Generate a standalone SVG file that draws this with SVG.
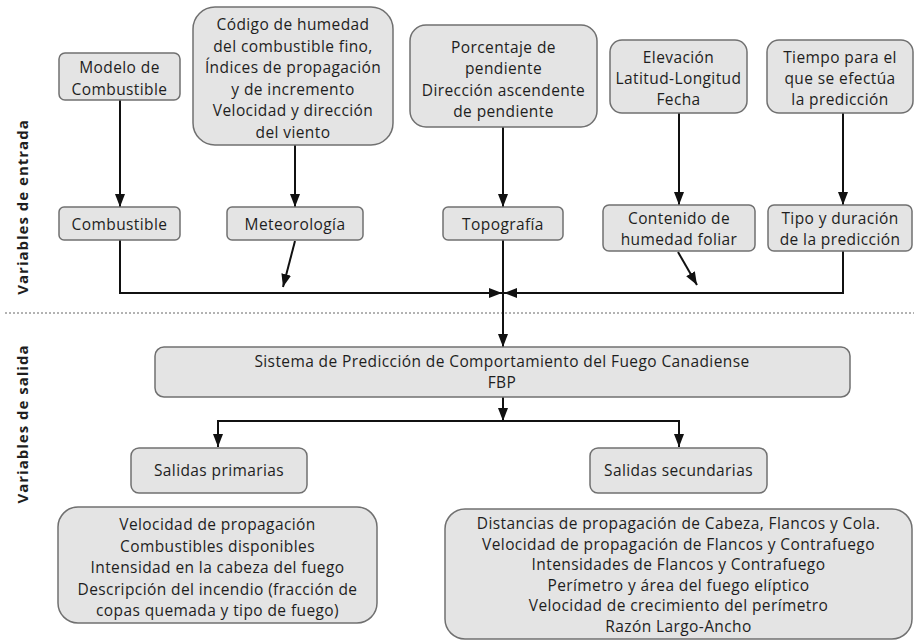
<svg xmlns="http://www.w3.org/2000/svg" width="914" height="643" viewBox="0 0 914 643">
<defs>
<style>
.box{fill:#e4e4e4;stroke:#707070;stroke-width:1.5}
.t{font-family:"Open Sans","Liberation Sans",sans-serif;font-size:15.5px;letter-spacing:0.4px;fill:#1e1e1e;text-anchor:middle}
.lbl{font-family:"Open Sans","Liberation Sans",sans-serif;font-size:15px;letter-spacing:1px;font-weight:bold;fill:#1e1e1e;text-anchor:middle}
.ln{stroke:#111;stroke-width:2;fill:none}
.dot{stroke:#666;stroke-width:1;stroke-dasharray:2 2;fill:none}
</style>
<marker id="ah" viewBox="0 0 13 10" markerWidth="13" markerHeight="10" refX="13" refY="5" orient="auto" markerUnits="userSpaceOnUse">
<path d="M0,0 L13,5 L0,10 z" fill="#111"/>
</marker>
</defs>

<rect width="914" height="643" fill="#fff"/>

<g id="labels">
<text class="lbl" transform="translate(28,207) rotate(-90)">Variables de entrada</text>
<text class="lbl" transform="translate(28,424) rotate(-90)">Variables de salida</text>
<line class="dot" x1="5" y1="313" x2="914" y2="313"/>
</g>

<g id="connectors">
<line class="ln" x1="120" y1="100" x2="120" y2="207" marker-end="url(#ah)"/>
<line class="ln" x1="295" y1="145" x2="295" y2="207" marker-end="url(#ah)"/>
<line class="ln" x1="503" y1="127" x2="503" y2="207" marker-end="url(#ah)"/>
<line class="ln" x1="679" y1="113" x2="679" y2="205" marker-end="url(#ah)"/>
<line class="ln" x1="843" y1="113" x2="843" y2="205" marker-end="url(#ah)"/>
<polyline class="ln" points="120,240 120,293 502,293" marker-end="url(#ah)"/>
<line class="ln" x1="295" y1="241" x2="283" y2="287" marker-end="url(#ah)"/>
<line class="ln" x1="503" y1="240" x2="503" y2="347" marker-end="url(#ah)"/>
<line class="ln" x1="678" y1="252" x2="697" y2="285" marker-end="url(#ah)"/>
<polyline class="ln" points="843,251 843,293 504,293" marker-end="url(#ah)"/>
<line class="ln" x1="503" y1="397" x2="503" y2="421" marker-end="url(#ah)"/>
<polyline class="ln" points="503,421 218,421 218,447" marker-end="url(#ah)"/>
<polyline class="ln" points="503,421 679,421 679,447" marker-end="url(#ah)"/>
</g>

<g id="modelo">
<rect class="box" x="59" y="53" width="121" height="47" rx="6"/>
<text class="t" x="119.5" y="73">Modelo de</text>
<text class="t" x="119.5" y="94.5">Combustible</text>
</g>

<g id="codigo">
<rect class="box" x="193" y="7" width="200" height="138" rx="22"/>
<text class="t" x="293" y="30">Código de humedad</text>
<text class="t" x="293" y="51.6">del combustible fino,</text>
<text class="t" x="293" y="73.2">Índices de propagación</text>
<text class="t" x="293" y="94.8">y de incremento</text>
<text class="t" x="293" y="116.4">Velocidad y dirección</text>
<text class="t" x="293" y="138">del viento</text>
</g>

<g id="porcentaje">
<rect class="box" x="410" y="25" width="187" height="102" rx="16"/>
<text class="t" x="503.5" y="53">Porcentaje de</text>
<text class="t" x="503.5" y="74.3">pendiente</text>
<text class="t" x="503.5" y="95.7">Dirección ascendente</text>
<text class="t" x="503.5" y="117">de pendiente</text>
</g>

<g id="elevacion">
<rect class="box" x="610" y="40" width="137" height="73" rx="12"/>
<text class="t" x="678.5" y="63">Elevación</text>
<text class="t" x="678.5" y="84">Latitud-Longitud</text>
<text class="t" x="678.5" y="105">Fecha</text>
</g>

<g id="tiempo">
<rect class="box" x="767" y="40" width="146" height="73" rx="12"/>
<text class="t" x="840" y="63">Tiempo para el</text>
<text class="t" x="840" y="84">que se efectúa</text>
<text class="t" x="840" y="105">la predicción</text>
</g>

<g id="combustible">
<rect class="box" x="59" y="207" width="121" height="33" rx="5"/>
<text class="t" x="119.5" y="229.5">Combustible</text>
</g>

<g id="meteorologia">
<rect class="box" x="227" y="207" width="136" height="33" rx="5"/>
<text class="t" x="295" y="229.5">Meteorología</text>
</g>

<g id="topografia">
<rect class="box" x="443" y="207" width="120" height="33" rx="5"/>
<text class="t" x="503" y="229.5">Topografía</text>
</g>

<g id="contenido">
<rect class="box" x="603" y="205" width="152" height="46" rx="6"/>
<text class="t" x="679" y="224">Contenido de</text>
<text class="t" x="679" y="245">humedad foliar</text>
</g>

<g id="tipo">
<rect class="box" x="768" y="205" width="144" height="46" rx="6"/>
<text class="t" x="840" y="224">Tipo y duración</text>
<text class="t" x="840" y="245">de la predicción</text>
</g>

<g id="sistema">
<rect class="box" x="155" y="347" width="695" height="50" rx="9"/>
<text class="t" x="502" y="367">Sistema de Predicción de Comportamiento del Fuego Canadiense</text>
<text class="t" x="502" y="388">FBP</text>
</g>

<g id="primarias">
<rect class="box" x="131" y="448" width="176" height="45" rx="8"/>
<text class="t" x="219" y="476">Salidas primarias</text>
</g>

<g id="secundarias">
<rect class="box" x="590" y="448" width="177" height="45" rx="8"/>
<text class="t" x="678.5" y="476">Salidas secundarias</text>
</g>

<g id="primarias-detalle">
<rect class="box" x="58" y="507" width="319" height="116" rx="20"/>
<text class="t" x="217.5" y="530">Velocidad de propagación</text>
<text class="t" x="217.5" y="551.5">Combustibles disponibles</text>
<text class="t" x="217.5" y="573">Intensidad en la cabeza del fuego</text>
<text class="t" x="217.5" y="594.5">Descripción del incendio (fracción de</text>
<text class="t" x="217.5" y="616">copas quemada y tipo de fuego)</text>
</g>

<g id="secundarias-detalle">
<rect class="box" x="445" y="509" width="467" height="130" rx="20"/>
<text class="t" x="678.5" y="529">Distancias de propagación de  Cabeza, Flancos y Cola.</text>
<text class="t" x="678.5" y="549.6">Velocidad de propagación de Flancos y Contrafuego</text>
<text class="t" x="678.5" y="570.2">Intensidades de Flancos y Contrafuego</text>
<text class="t" x="678.5" y="590.8">Perímetro y área del fuego elíptico</text>
<text class="t" x="678.5" y="611.4">Velocidad de crecimiento del perímetro</text>
<text class="t" x="678.5" y="632">Razón Largo-Ancho</text>
</g>
</svg>
